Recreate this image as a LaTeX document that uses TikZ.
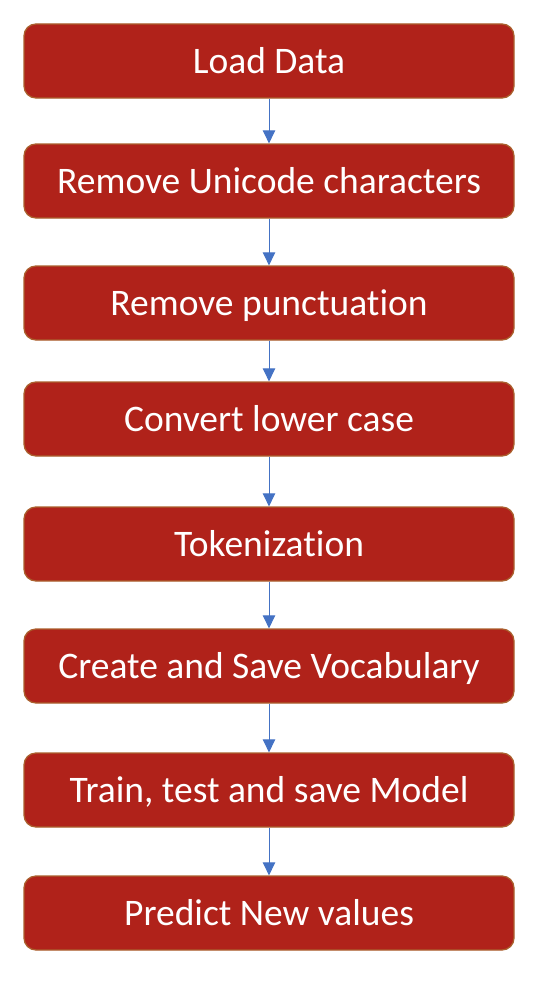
\documentclass[tikz,border=0pt]{standalone}
\usepackage{fontspec}
\setmainfont{Carlito}[Ligatures={NoCommon,NoRare,NoContextual}]
\usetikzlibrary{arrows.meta}
\definecolor{boxfill}{RGB}{176,34,26}
\definecolor{boxedge}{RGB}{170,95,45}
\definecolor{arrowblue}{RGB}{68,114,196}
\begin{document}
\begin{tikzpicture}[x=1pt,y=-1pt,
  stepbox/.style={draw=boxedge, line width=1.3pt, fill=boxfill, rounded corners=12pt,
    minimum width=490pt, minimum height=74pt, inner sep=0pt,
    text=white, font=\fontsize{37.5}{42}\selectfont, text height=24.1pt, text depth=0pt},
  flow/.style={draw=arrowblue, line width=1pt, -{Triangle[width=12.5pt,length=13pt]}}]
\useasboundingbox (0,0) rectangle (554,990);
\node[stepbox] (n1) at (269,61) {Load Data};
\node[stepbox] (n2) at (269,181) {Remove Unicode characters};
\node[stepbox] (n3) at (269,303) {Remove punctuation};
\node[stepbox] (n4) at (269,419) {Convert lower case};
\node[stepbox] (n5) at (269,544) {Tokenization};
\node[stepbox] (n6) at (269,666) {Create and Save Vocabulary};
\node[stepbox] (n7) at (269,790) {Train, test and save Model};
\node[stepbox] (n8) at (269,913) {Predict New values};
\draw[flow] (n1) -- (n2);
\draw[flow] (n2) -- (n3);
\draw[flow] (n3) -- (n4);
\draw[flow] (n4) -- (n5);
\draw[flow] (n5) -- (n6);
\draw[flow] (n6) -- (n7);
\draw[flow] (n7) -- (n8);
\end{tikzpicture}
\end{document}
